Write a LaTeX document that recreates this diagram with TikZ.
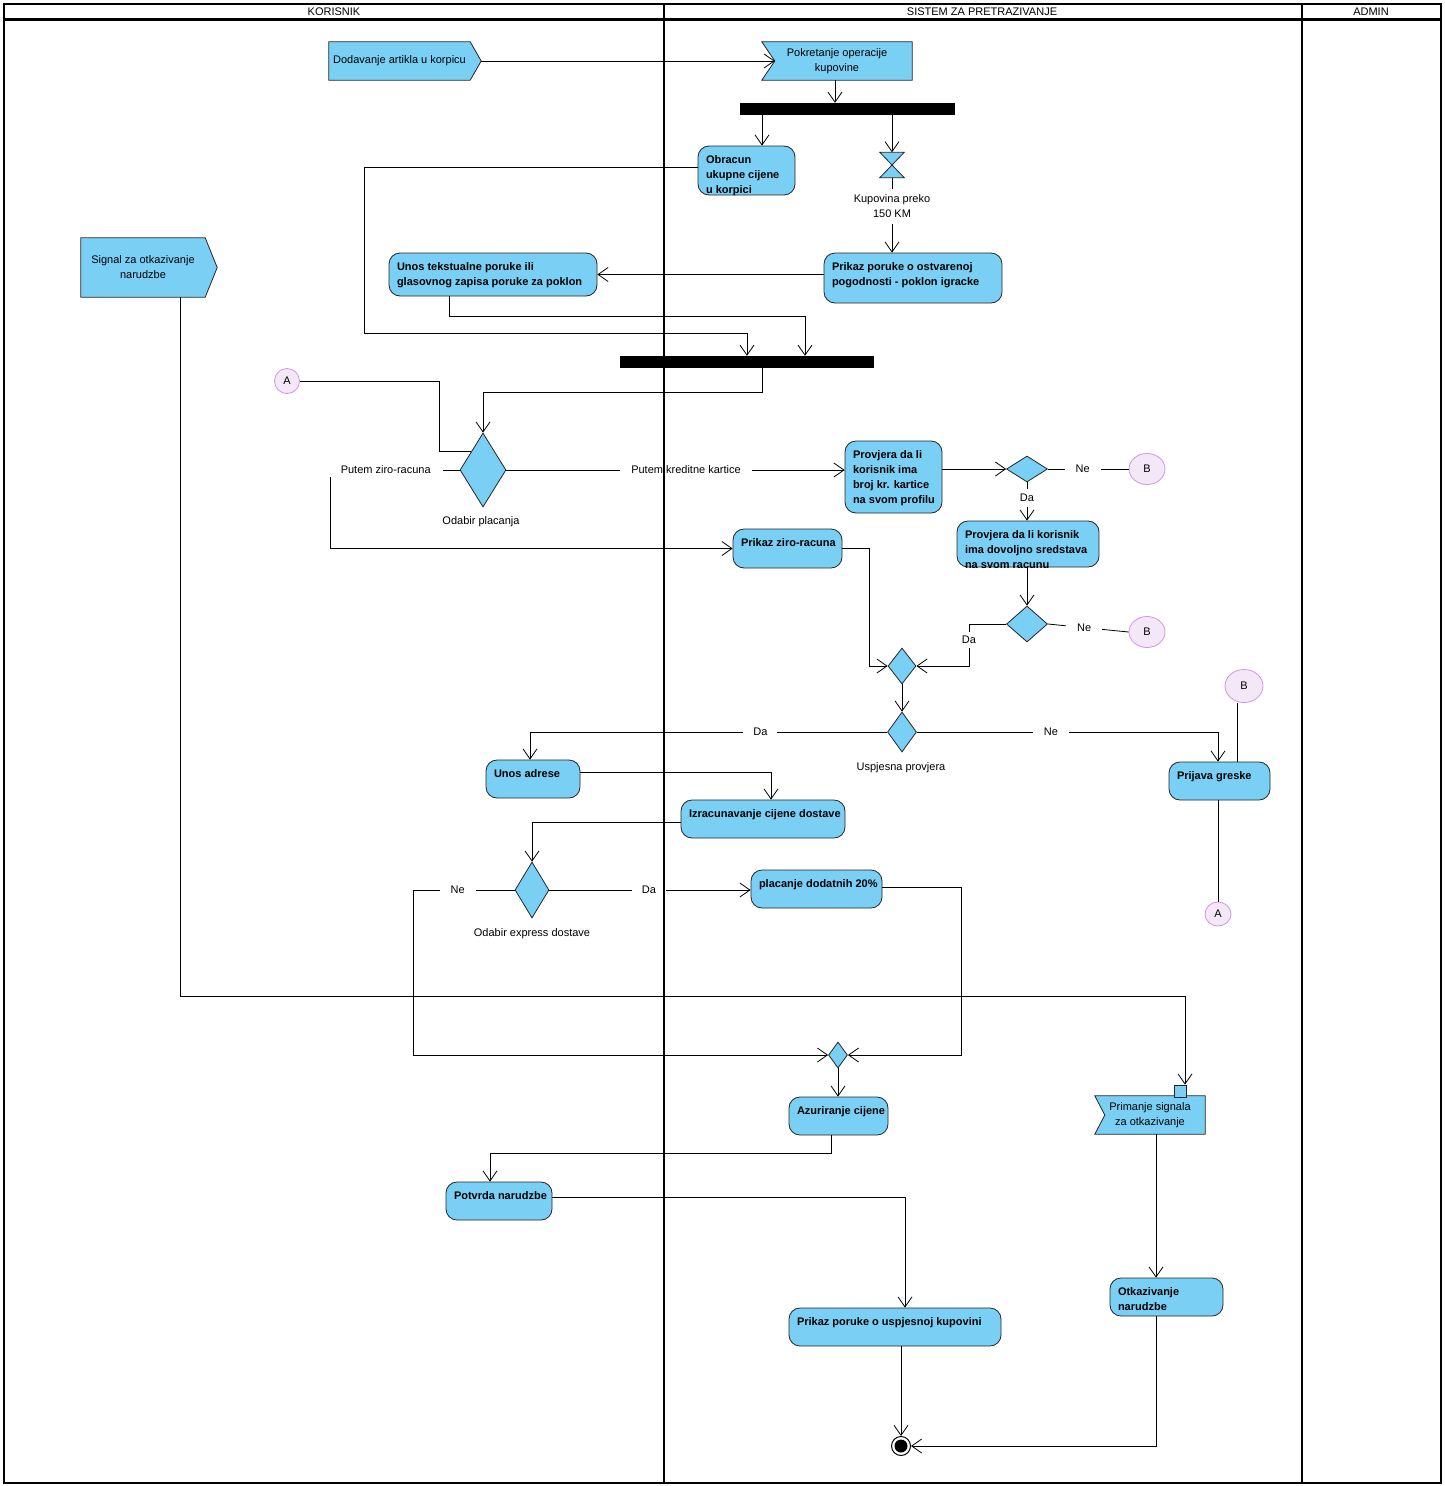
\documentclass[tikz,border=0pt]{standalone}
\usepackage{fontspec}
\setmainfont{Liberation Sans}
\usetikzlibrary{arrows.meta,shapes.geometric,calc}
\definecolor{actblue}{RGB}{122,207,245}
\definecolor{conFill}{RGB}{244,231,248}
\definecolor{conDraw}{RGB}{206,152,226}
\pgfdeclarelayer{bg}\pgfdeclarelayer{fg}\pgfsetlayers{bg,main,fg}
\newcommand\abox[3]{\parbox[c][#2pt][t]{#1pt}{\rule{0pt}{17pt}\rlap{\begin{tabular}[t]{@{}l@{}}#3\end{tabular}}}}
\tikzset{
 act/.style={draw=black!85, fill=actblue, rounded corners=11pt, inner xsep=8pt, inner ysep=0pt, line width=0.8pt, font=\bfseries\fontsize{11}{15}\selectfont},
 sigtext/.style={inner sep=0pt, align=center, font=\fontsize{11}{15}\selectfont},
 sigshape/.style={fill=actblue, draw=black!85, line width=0.8pt},
 dia/.style={diamond, draw=black!85, fill=actblue, inner sep=0pt, line width=0.8pt},
 conn/.style={ellipse, draw=conDraw, fill=conFill, inner sep=0pt, line width=0.8pt, font=\fontsize{11}{13}\selectfont},
 barnode/.style={fill=black, inner sep=0pt},
 arr/.style={-{Straight Barb[length=10pt,width=14pt]}, line width=0.8pt},
 ln/.style={line width=0.8pt},
 lbl/.style={fill=white, inner sep=2pt, align=center, font=\fontsize{11}{15}\selectfont},
 txtlbl/.style={font=\fontsize{11}{13}\selectfont, inner sep=1pt},
 laneline/.style={line width=2.5pt},
}
\begin{document}
\begin{tikzpicture}[x=1pt,y=-1pt]
\useasboundingbox (0,0) rectangle (1444,1486);
\begin{pgfonlayer}{bg}
\fill[white] (0,0) rectangle (1444,1486);
\end{pgfonlayer}

% lane headers
\node[txtlbl] (hk) at (334,12) {KORISNIK};
\node[txtlbl] (hs) at (982,12) {SISTEM ZA PRETRAZIVANJE};
\node[txtlbl] (ha) at (1371,12) {ADMIN};

% signal / event shapes (text nodes)
\node[sigtext, minimum width=141, minimum height=38] (dod) at (399.5,61) {Dodavanje artikla u korpicu};
\node[sigtext, minimum width=150, minimum height=38] (pok) at (837,61) {Pokretanje operacije\\kupovine};
\node[sigtext, minimum width=124, minimum height=59] (sig) at (143,267.5) {Signal za otkazivanje\\narudzbe};
\node[sigtext, minimum width=110, minimum height=38] (prim) at (1150,1115) {Primanje signala\\za otkazivanje};
\coordinate (dodtip) at ([xshift=11pt]dod.east);
\coordinate (pokin) at ([xshift=13pt]pok.west);
\coordinate (sigtip) at ([xshift=12pt]sig.east);
\coordinate (primin) at ([xshift=10pt]prim.west);
\begin{pgfonlayer}{bg}
\filldraw[sigshape] (dod.north west) -- (dod.north east) -- (dodtip) -- (dod.south east) -- (dod.south west) -- cycle;
\filldraw[sigshape] (pok.north west) -- (pok.north east) -- (pok.south east) -- (pok.south west) -- (pokin) -- cycle;
\filldraw[sigshape] (sig.north west) -- (sig.north east) -- (sigtip) -- (sig.south east) -- (sig.south west) -- cycle;
\filldraw[sigshape] (prim.north west) -- (prim.north east) -- (prim.south east) -- (prim.south west) -- (primin) -- cycle;
\end{pgfonlayer}
\node[draw=black!85, fill=actblue, line width=0.8pt, minimum size=12, inner sep=0pt] (pin) at (1180,1091) {};

% bars
\node[barnode, minimum width=215, minimum height=12] (bar1) at (847.5,109) {};
\node[barnode, minimum width=254, minimum height=12] (bar2) at (747,362) {};

% hourglass
\node[minimum width=24, minimum height=25, inner sep=0pt] (hg) at (892,165) {};
\filldraw[sigshape] (hg.north west) -- (hg.north east) -- (hg.south west) -- (hg.south east) -- cycle;

% activities
\node[act] (obr) at (746.5,170.5) {\abox{81}{49}{Obracun\\ukupne cijene\\u korpici}};
\node[act] (prk) at (913,278) {\abox{162}{50}{Prikaz poruke o ostvarenoj\\pogodnosti - poklon igracke}};
\node[act] (unt) at (493,274.5) {\abox{192}{43}{Unos tekstualne poruke ili\\glasovnog zapisa poruke za poklon}};
\node[act] (prv1) at (893.5,477) {\abox{81}{72}{Provjera da li\\korisnik ima\\broj kr. kartice\\na svom profilu}};
\node[act] (prv2) at (1028,544) {\abox{126}{46}{Provjera da li korisnik\\ima dovoljno sredstava\\na svom racunu}};
\node[act] (ziro) at (787.5,548.5) {\abox{93}{39}{Prikaz ziro-racuna}};
\node[act] (adr) at (533,779) {\abox{78}{38}{Unos adrese}};
\node[act] (izr) at (763,819) {\abox{148}{38}{Izracunavanje cijene dostave}};
\node[act] (pl20) at (816.5,889) {\abox{115}{38}{placanje dodatnih 20\%}};
\node[act] (azu) at (838.5,1116) {\abox{83}{38}{Azuriranje cijene}};
\node[act] (pot) at (499,1201) {\abox{90}{38}{Potvrda narudzbe}};
\node[act] (usp) at (895,1327) {\abox{196}{38}{Prikaz poruke o uspjesnoj kupovini}};
\node[act] (otk) at (1166.5,1297) {\abox{97}{38}{Otkazivanje\\narudzbe}};
\node[act] (prj) at (1219.5,781) {\abox{85}{38}{Prijava greske}};

% decisions / merges
\node[dia, minimum width=46, minimum height=74] (odp) at (483,470) {};
\node[txtlbl] (lodp) at (481,522) {Odabir placanja};
\node[dia, minimum width=41, minimum height=26] (d1) at (1027,469) {};
\node[dia, minimum width=41, minimum height=36] (d2) at (1027,624) {};
\node[dia, minimum width=28, minimum height=36] (m1) at (902,666) {};
\node[dia, minimum width=29, minimum height=40] (up) at (902,732) {};
\node[txtlbl] (lup) at (901,768) {Uspjesna provjera};
\node[dia, minimum width=34, minimum height=56] (ex) at (532,890) {};
\node[txtlbl] (lex) at (532,934) {Odabir express dostave};
\node[dia, minimum width=19, minimum height=26] (m2) at (838,1055) {};

% connectors (circles)
\node[conn, minimum width=25, minimum height=25] (A1) at (287,381) {A};
\node[conn, minimum width=36, minimum height=31] (B1) at (1147,469) {B};
\node[conn, minimum width=36, minimum height=31] (B2) at (1147,632) {B};
\node[conn, minimum width=38, minimum height=33] (B3) at (1244,686) {B};
\node[conn, minimum width=26, minimum height=24] (A2) at (1218,914) {A};

% final node
\node[circle, draw, line width=1pt, fill=white, minimum size=19, inner sep=0pt] (fin) at (901,1446) {};
\fill (fin.center) circle[radius=6.5];

% flows
\draw[arr] (dodtip) -- (pokin);
\draw[arr] (835,0 |- pok.south) -- (835,0 |- bar1.north);
\draw[arr] (762,0 |- bar1.south) -- (762,0 |- obr.north);
\draw[arr] (hg.north |- bar1.south) -- (hg.north);
\draw[arr] (hg.south) -- node[lbl, pos=0.38, inner ysep=6pt] {Kupovina preko\\150 KM} (hg.south |- prk.north);
\draw[arr] (prk.west |- unt.east) -- (unt.east);
\draw[arr] ([yshift=3.5pt]obr.west) -- (364,167) -- (364,333) -- (747,333) -- (747,0 |- bar2.north);
\draw[arr] (449,0 |- unt.south) -- (449,316) -- (805,316) -- (805,0 |- bar2.north);
\draw[arr] (762,0 |- bar2.south) -- (762,392) -- (483,392) -- (odp.north);
\draw[ln] (A1.east) -- (439,381) -- (439,0 |- odp.north west) -- (odp.north west);
\draw[arr] (odp.west) -- node[lbl, pos=0.57, inner xsep=12pt, inner ysep=3pt] {Putem ziro-racuna} (330,470) -- (330,0 |- ziro.west) -- (ziro.west);
\draw[arr] (odp.east) -- node[lbl, pos=0.531, inner xsep=11pt] {Putem kreditne kartice} (prv1.west |- odp.east);
\draw[arr] (prv1.east |- d1.west) -- (d1.west);
\draw[ln] (d1.east) -- node[lbl, pos=0.43, inner xsep=11pt] {Ne} (B1.west);
\draw[arr] (d1.south) -- node[lbl, pos=0.4, inner ysep=5pt] {Da} (d1.south |- prv2.north);
\draw[arr] (d2.north |- prv2.south) -- (d2.north);
\draw[ln] (d2.east) -- node[lbl, pos=0.45, inner xsep=11pt] {Ne} (B2.west);
\draw[arr] (d2.west) -- (969,0 |- d2.west) -- node[lbl, pos=0.38, inner ysep=4pt] {Da} (969,0 |- m1.east) -- (m1.east);
\draw[arr] (ziro.east) -- (869,0 |- ziro.east) -- (869,0 |- m1.west) -- (m1.west);
\draw[arr] (m1.south) -- (up.north);
\draw[arr] (up.west) -- node[lbl, pos=0.355, inner xsep=10pt] {Da} (530,0 |- up.west) -- (530,0 |- adr.north);
\draw[arr] (up.east) -- node[lbl, pos=0.445, inner xsep=11pt] {Ne} (1218,0 |- up.east) -- (1218,0 |- prj.north);
\draw[ln] (1237,0 |- B3.south) -- (1237,0 |- prj.north);
\draw[ln] (A2.north |- prj.south) -- (A2.north);
\draw[arr] ([yshift=7pt]adr.east) -- (771,772) -- (771,0 |- izr.north);
\draw[arr] ([yshift=-3pt]izr.west) -- (532,822) -- (ex.north);
\draw[arr] (ex.east) -- node[lbl, pos=0.495, inner xsep=10pt] {Da} (pl20.west |- ex.east);
\draw[arr] (ex.west) -- node[lbl, pos=0.56, inner xsep=11pt] {Ne} (413,0 |- ex.west) -- (413,0 |- m2.west) -- (m2.west);
\draw[arr] ([yshift=2pt]pl20.east) -- (961,887) -- (961,0 |- m2.east) -- (m2.east);
\draw[arr] (m2.south) -- (m2.south |- azu.north);
\draw[arr] (831,0 |- azu.south) -- (831,1153) -- (490,1153) -- (490,0 |- pot.north);
\draw[arr] ([yshift=4pt]pot.east) -- (905,1197) -- (905,0 |- usp.north);
\draw[arr] (fin.north |- usp.south) -- (fin.north);
\draw[arr] (180,0 |- sig.south) -- (180,996) -- (1185,996) -- (1185,0 |- pin.north);
\draw[arr] (1156,0 |- prim.south) -- (1156,0 |- otk.north);
\draw[arr] (1156,0 |- otk.south) -- (1156,0 |- fin.east) -- (fin.east);

% swimlanes
\begin{pgfonlayer}{fg}
\draw[line width=2pt] (4,4) rectangle (1441,1483);
\draw[laneline] (4,19.5) -- (1441,19.5);
\draw[laneline] (664,4) -- (664,1483);
\draw[laneline] (1302,4) -- (1302,1483);
\end{pgfonlayer}
\end{tikzpicture}
\end{document}
